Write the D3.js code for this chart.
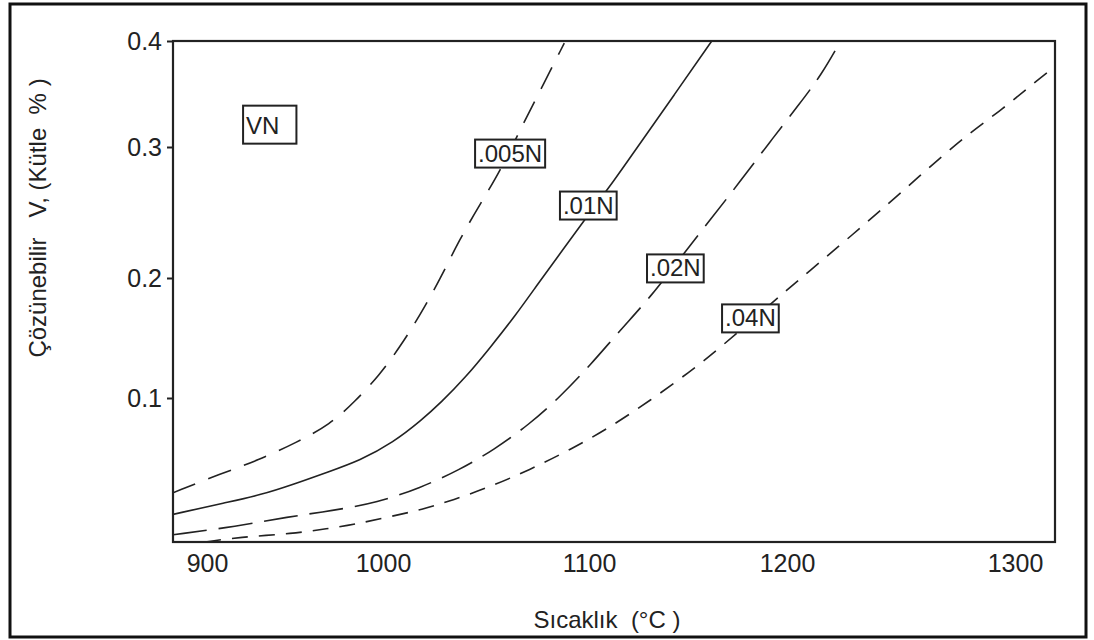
<!DOCTYPE html>
<html>
<head>
<meta charset="utf-8">
<script src="https://cdn.jsdelivr.net/npm/d3@7"></script>
<style>
  body { margin: 0; background: #fff; }
  text { font-family: "Liberation Sans", Arial, sans-serif; fill: #222; white-space: pre; }
</style>
</head>
<body>
<div id="d3Container"></div>
<script>
// temperature (°C) and soluble V (mass %), one pair of arrays per curve
const t005 = [881, 908, 929, 951, 970, 984, 998, 1008, 1018, 1028, 1037, 1047, 1057, 1066, 1076, 1088];
const v005 = [0.021, 0.037, 0.048, 0.063, 0.078, 0.097, 0.119, 0.142, 0.169, 0.200, 0.229, 0.256, 0.282, 0.314, 0.352, 0.398];

const t01 = [881, 911, 930, 949, 968, 987, 1005, 1019, 1028, 1040, 1052, 1064, 1076, 1088, 1100, 1113, 1124, 1143, 1162];
const v01 = [0.003, 0.013, 0.019, 0.028, 0.038, 0.048, 0.063, 0.082, 0.096, 0.117, 0.142, 0.168, 0.197, 0.223, 0.249, 0.275, 0.299, 0.349, 0.400];

const t02 = [881, 917, 946, 971, 997, 1018, 1037, 1054, 1071, 1086, 1101, 1116, 1131, 1146, 1161, 1176, 1191, 1206, 1215, 1223];
const v02 = [-0.014, -0.007, 0.001, 0.006, 0.013, 0.025, 0.040, 0.057, 0.078, 0.101, 0.128, 0.157, 0.184, 0.215, 0.244, 0.273, 0.304, 0.342, 0.368, 0.398];

const t04 = [899, 918, 949, 968, 985, 1003, 1019, 1034, 1052, 1071, 1091, 1111, 1131, 1151, 1165, 1197, 1209, 1228, 1250, 1276, 1293, 1310, 1318];
const v04 = [-0.020, -0.016, -0.013, -0.009, -0.005, 0.001, 0.007, 0.015, 0.026, 0.040, 0.057, 0.076, 0.098, 0.122, 0.140, 0.186, 0.204, 0.232, 0.265, 0.307, 0.333, 0.363, 0.376];

const curveNames = ['.005N', '.01N', '.02N', '.04N'];
const curveT = [t005, t01, t02, t04];
const curveV = [v005, v01, v02, v04];
const curveDash = ['24,14', null, '34,12', '16,11'];

// boxed labels: text and top-left corner in data units
const labelText = ['VN', '.005N', '.01N', '.02N', '.04N'];
const labelT = [920.5, 1044.7, 1085.9, 1129.3, 1167.2];
const labelV = [0.339, 0.307, 0.266, 0.218, 0.178];

const xTicks = [900, 1000, 1100, 1200, 1300];
const yTicks = [0.1, 0.2, 0.3, 0.4];

const w = 1094;
const h = 640;
const svg = d3.select('#d3Container').append('svg')
  .attr('width', w)
  .attr('height', h);

// outer frame of the figure
svg.append('rect')
  .attr('x', 10).attr('y', 4)
  .attr('width', 1076).attr('height', 633)
  .attr('fill', 'none').attr('stroke', '#111').attr('stroke-width', 3);

const [x0, y0, x1, y1] = [173, 41, 1055, 542];

// the printed tick labels are not evenly spaced, so the scales go through each of them
const xScale = d3.scaleLinear()
  .domain([881, 900, 1000, 1100, 1200, 1300, 1318])
  .range([x0, 207, 383, 589, 787, 1015, x1]);
const yScale = d3.scaleLinear()
  .domain([-0.02, 0.1, 0.2, 0.3, 0.4])
  .range([y1, 398, 278, 147, y0]);

const font = '"Liberation Sans", Arial, sans-serif';

const xAxis = d3.axisBottom(xScale).tickValues(xTicks).tickSize(0).tickPadding(12).tickFormat(d3.format('d'));
const gx = svg.append('g').attr('transform', `translate(0, ${y1})`).call(xAxis);
gx.select('.domain').remove();
gx.selectAll('text').style('font-size', '25px').style('font-family', font).attr('fill', '#222');

const yAxis = d3.axisLeft(yScale).tickValues(yTicks).tickSize(6).tickPadding(5).tickFormat(d3.format('.1f'));
const gy = svg.append('g').attr('transform', `translate(${x0}, 0)`).call(yAxis);
gy.select('.domain').remove();
gy.selectAll('line').attr('stroke', '#222').attr('stroke-width', 2);
gy.selectAll('text').style('font-size', '25px').style('font-family', font).attr('fill', '#222');

svg.append('clipPath').attr('id', 'plotClip')
  .append('rect').attr('x', x0).attr('y', y0).attr('width', x1 - x0).attr('height', y1 - y0);

const line = d3.line()
  .x(d => xScale(d[0]))
  .y(d => yScale(d[1]))
  .curve(d3.curveBasis);

const plot = svg.append('g').attr('clip-path', 'url(#plotClip)');
curveNames.forEach((name, i) => {
  const pts = curveT[i].map((t, j) => [t, curveV[i][j]]);
  plot.append('path')
    .datum(pts)
    .attr('d', line)
    .attr('fill', 'none')
    .attr('stroke', '#222')
    .attr('stroke-width', 1.6)
    .attr('stroke-dasharray', curveDash[i]);
});

// plot frame
svg.append('rect')
  .attr('x', x0).attr('y', y0)
  .attr('width', x1 - x0).attr('height', y1 - y0)
  .attr('fill', 'none').attr('stroke', '#222').attr('stroke-width', 2.2);

// boxed labels
labelText.forEach((txt, i) => {
  const lx = xScale(labelT[i]);
  const ly = yScale(labelV[i]);
  const isVN = txt === 'VN';
  const g = svg.append('g');
  const bg = g.append('rect').attr('fill', '#fff').attr('stroke', '#222').attr('stroke-width', 2);
  const tx = g.append('text')
    .attr('x', lx + 3)
    .attr('y', ly + (isVN ? 28 : 22))
    .style('font-size', '24px')
    .text(txt);
  const bb = tx.node().getBBox();
  bg.attr('x', lx).attr('y', ly)
    .attr('width', bb.width + 6 + (isVN ? 14 : 0))
    .attr('height', isVN ? 38 : 28);
});

// axis titles
svg.append('text')
  .attr('x', 607).attr('y', 628)
  .attr('text-anchor', 'middle')
  .style('font-size', '24px')
  .text('Sıcaklık  (°C )');

svg.append('text')
  .attr('transform', 'translate(46, 218) rotate(-90)')
  .attr('text-anchor', 'middle')
  .style('font-size', '24px')
  .text('Çözünebilir   V, (Kütle  % )');
</script>
</body>
</html>
